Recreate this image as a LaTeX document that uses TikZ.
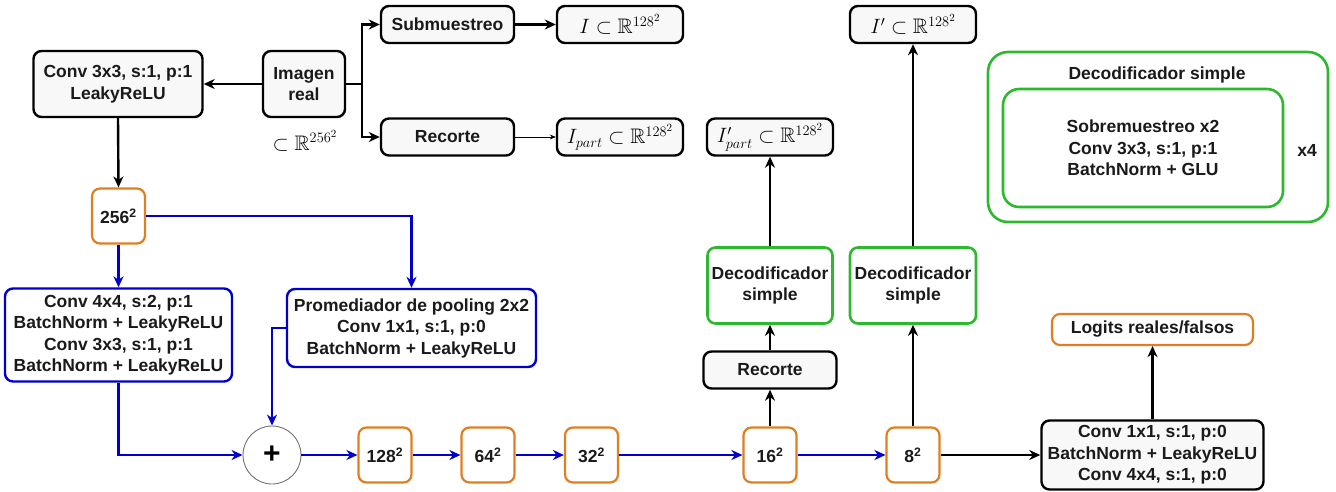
\documentclass[tikz,border=0pt]{standalone}
\usepackage{fontspec}
\setmainfont{Liberation Sans}
\usepackage{amssymb}
\usetikzlibrary{arrows.meta}
\definecolor{myblue}{HTML}{0000CC}
\definecolor{myorange}{HTML}{E07F22}
\definecolor{mygreen}{HTML}{2DB82D}
\definecolor{boxfill}{HTML}{F8F8F8}
\definecolor{txt}{HTML}{1A1A1A}
\begin{document}
\begin{tikzpicture}[x=1pt,y=-1pt,
  font=\fontsize{17.5}{21.5}\selectfont\bfseries,
  base/.style={rounded corners=8pt, align=center, inner sep=0pt, text=txt},
  blk/.style={base, draw=black, line width=2.4pt, fill=boxfill},
  blu/.style={base, draw=myblue, line width=2.4pt, fill=white},
  org/.style={base, draw=myorange, line width=2.2pt, fill=white, minimum width=53pt, minimum height=55pt},
  grn/.style={base, draw=mygreen, line width=2.6pt, fill=white},
  mth/.style={blk, font=\fontsize{21}{24}\selectfont, text=black, minimum width=126pt, minimum height=37pt},
  arr/.style={-{Stealth[length=11pt,width=10pt,inset=3.5pt]}, line width=2.4pt},
  barr/.style={arr, draw=myblue},
  ln/.style={line width=2.4pt}]
\useasboundingbox (0,0) rectangle (1336,492);

% top-left
\node[blk, minimum width=169pt, minimum height=66pt] (c1) at (118,84) {Conv 3x3, s:1, p:1\\LeakyReLU};
\node[blk, minimum width=82pt, minimum height=66pt] (img) at (304,84) {Imagen\\real};
\node[text=black, font=\fontsize{21}{24}\selectfont] (imgdim) at (305,141) {$\subset\mathbb{R}^{256^2}$};
\coordinate (br) at (362,84);
\node[blk, minimum width=133pt, minimum height=37pt] (sub) at (447.5,24.5) {Submuestreo};
\node[blk, minimum width=133pt, minimum height=37pt] (rec) at (447.5,137) {Recorte};
\node[mth] (ii) at (620,24.5) {$I\subset\mathbb{R}^{128^2}$};
\node[mth] (ipart) at (620,137) {$I_{part}\subset\mathbb{R}^{128^2}$};
\node[mth] (ippart) at (770,137) {$I'_{part}\subset\mathbb{R}^{128^2}$};
\node[mth] (ip) at (913,24.5) {$I'\subset\mathbb{R}^{128^2}$};

% legend
\node[grn, rounded corners=20pt, minimum width=340pt, minimum height=170pt] (gout) at (1158,137) {};
\node[text=txt] (gtitle) at (1157,75) {Decodificador simple};
\node[grn, rounded corners=16pt, minimum width=280pt, minimum height=118pt] (gin) at (1143,148) {Sobremuestreo x2\\Conv 3x3, s:1, p:1\\BatchNorm + GLU};
\node[text=txt] (x4) at (1307,150) {x4};

% encoder
\node[org] (s256) at (118.5,216) {256\textsuperscript{2}};
\node[blu, minimum width=227pt, minimum height=93pt] (cv4) at (118.5,335) {Conv 4x4, s:2, p:1\\BatchNorm + LeakyReLU\\Conv 3x3, s:1, p:1\\BatchNorm + LeakyReLU};
\node[blu, minimum width=249pt, minimum height=78pt] (pool) at (411.5,328) {Promediador de pooling 2x2\\Conv 1x1, s:1, p:0\\BatchNorm + LeakyReLU};
\node[circle, draw=black!55, line width=0.9pt, fill=white, minimum size=58pt, inner sep=0pt, text=black, font=\fontsize{30}{30}\selectfont\bfseries] (plus) at (272,455) {+};
\node[org] (s128) at (385,455) {128\textsuperscript{2}};
\node[org] (s64) at (488,455) {64\textsuperscript{2}};
\node[org] (s32) at (591.5,455) {32\textsuperscript{2}};
\node[org] (s16) at (770,455) {16\textsuperscript{2}};
\node[org] (s8) at (913,455) {8\textsuperscript{2}};

% decoders
\node[blk, minimum width=133pt, minimum height=37pt] (rec2) at (770,370) {Recorte};
\node[grn, minimum width=125pt, minimum height=76pt] (dec1) at (770,285.5) {Decodificador\\simple};
\node[grn, minimum width=126pt, minimum height=76pt] (dec2) at (913,285.5) {Decodificador\\simple};
\node[blk, minimum width=222pt, minimum height=69pt] (fin) at (1152.5,455) {Conv 1x1, s:1, p:0\\BatchNorm + LeakyReLU\\Conv 4x4, s:1, p:0};
\node[org, minimum width=201pt, minimum height=31pt] (logit) at (1152.5,329.5) {Logits reales/falsos};

% connectors
\draw[arr] (img.west) -- (c1.east);
\draw[ln] (img.east) -- (br);
\draw[arr] (br) |- (sub.west);
\draw[arr] (br) |- (rec.west);
\draw[arr] (sub.east) -- (ii.west);
\draw[-{Stealth[length=6pt,width=5pt]}, line width=0.8pt] (rec.east) -- (ipart.west);
\draw[arr] (c1.south) -- (s256.north);
\draw[barr] (s256.south) -- (cv4.north);
\draw[barr] (s256.east) -| (pool.north);
\draw[barr] (cv4.south) |- (plus.west);
\draw[barr] (pool.west) -| (plus.north);
\draw[barr] (plus.east) -- (s128.west);
\draw[barr] (s128.east) -- (s64.west);
\draw[barr] (s64.east) -- (s32.west);
\draw[barr] (s32.east) -- (s16.west);
\draw[barr] (s16.east) -- (s8.west);
\draw[arr] (s8.east) -- (fin.west);
\draw[arr] (fin.north) -- (logit.south);
\draw[arr] (s16.north) -- (rec2.south);
\draw[arr] (rec2.north) -- (dec1.south);
\draw[arr] (dec1.north) -- (ippart.south);
\draw[arr] (s8.north) -- (dec2.south);
\draw[arr] (dec2.north) -- (ip.south);
\end{tikzpicture}
\end{document}
